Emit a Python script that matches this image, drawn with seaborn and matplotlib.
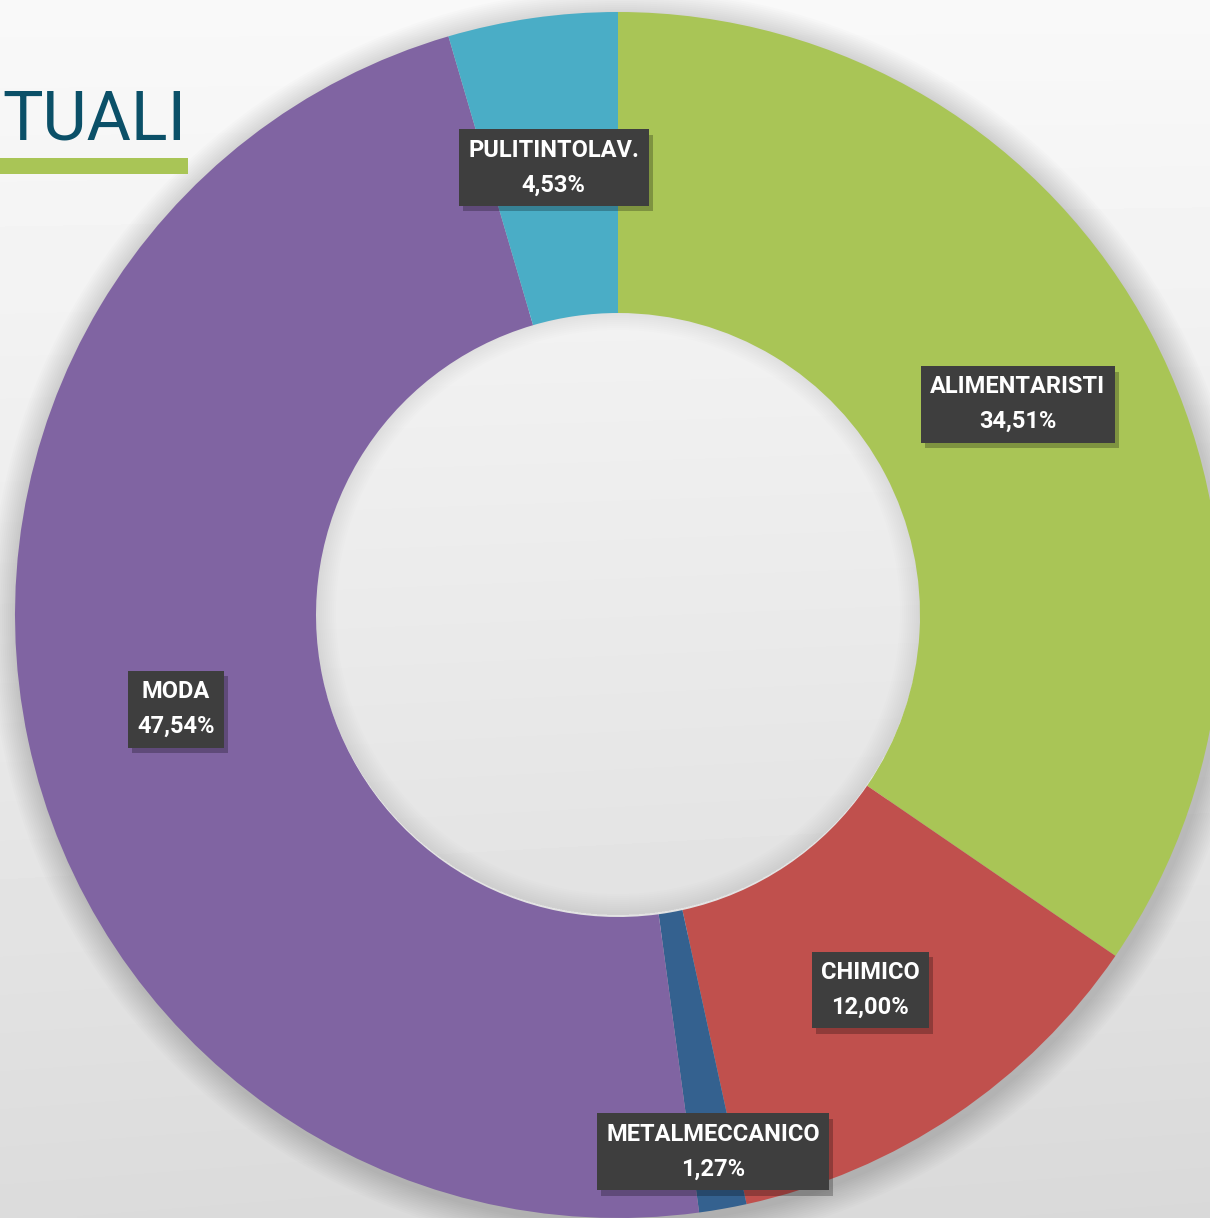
import numpy as np
import matplotlib
matplotlib.use("Agg")
import matplotlib.pyplot as plt
import matplotlib.patheffects as pe
from matplotlib.patches import Rectangle, Wedge
import seaborn as sns

sns.set_theme(style="white")
plt.rcParams['font.family'] = ['Roboto', 'DejaVu Sans']

# data
sectors = ["ALIMENTARISTI", "CHIMICO", "METALMECCANICO", "MODA", "PULITINTOLAV."]
shares = [34.51, 12.00, 1.27, 47.54, 4.53]
colors = sns.color_palette(["#A9C556", "#C0504D", "#34618F", "#8064A2", "#4AADC6"])
title_text = "TUALI"

W, H = 1210, 1218
fig = plt.figure(figsize=(W / 100, H / 100), dpi=100)
ax = fig.add_axes([0, 0, 1, 1])

# background gradient (light at top, greyer at bottom)
yy, xx = np.mgrid[0:1:300j, 0:1:300j]
grad = 0.975 - 0.115 * yy ** 1.1 - 0.01 * xx * yy
ax.imshow(grad, cmap="gray", vmin=0, vmax=1, extent=(0, W, 0, H),
          origin="upper", zorder=0, interpolation="bilinear")

cx, cy = 618, H - 615
r_out, r_in = 603, 302

# soft outer shadow (annuli kept away from the hole)
for k in range(14):
    ro = r_out + 28 - k * 2
    ax.add_patch(Wedge((cx + 3, cy - 5), ro, 0, 360, width=ro - r_in - 20,
                       color="black", alpha=0.011, lw=0, zorder=1))

# title (cut at the left edge in the original slide)
ax.text(186, H - 140, title_text, ha="right", va="baseline", fontsize=49,
        color="#0B5068", fontweight="normal", zorder=2)
ax.add_patch(Rectangle((0, H - 174), 188, 16, color="#A9C556", lw=0, zorder=2))

wedges, _ = ax.pie(shares, colors=colors, radius=r_out, center=(cx, cy),
                   startangle=90, counterclock=False,
                   wedgeprops=dict(width=r_out - r_in, edgecolor="none"))
for w in wedges:
    w.set_zorder(3)

# inner shadow inside the hole
for k in range(10):
    ax.add_patch(Wedge((cx, cy + 3), r_in + 1, 0, 360, width=3 + k * 2,
                       color="black", alpha=0.007, lw=0, zorder=2.5))

# labels; tiny slices get pushed outward like in the original
for w, name, v in zip(wedges, sectors, shares):
    r_lab = 545 if v < 2 else 452
    th = np.deg2rad((w.theta1 + w.theta2) / 2)
    x = cx + r_lab * np.cos(th)
    y = cy + r_lab * np.sin(th)
    pct = f"{v:.2f}".replace(".", ",") + "%"
    t = ax.text(x, y, f"{name}\n{pct}", ha="center", va="center", color="white",
                fontsize=17, fontweight="bold", linespacing=1.65, zorder=6,
                bbox=dict(boxstyle="square,pad=0.4", facecolor="#3E3E3E",
                          edgecolor="none"))
    t.get_bbox_patch().set_path_effects([
        pe.SimplePatchShadow(offset=(3, -4), shadow_rgbFace="black", alpha=0.25),
        pe.Normal()])

ax.set_xlim(0, W)
ax.set_ylim(0, H)
ax.set_aspect("auto")
ax.axis("off")

fig.savefig("out.png", dpi=100)
